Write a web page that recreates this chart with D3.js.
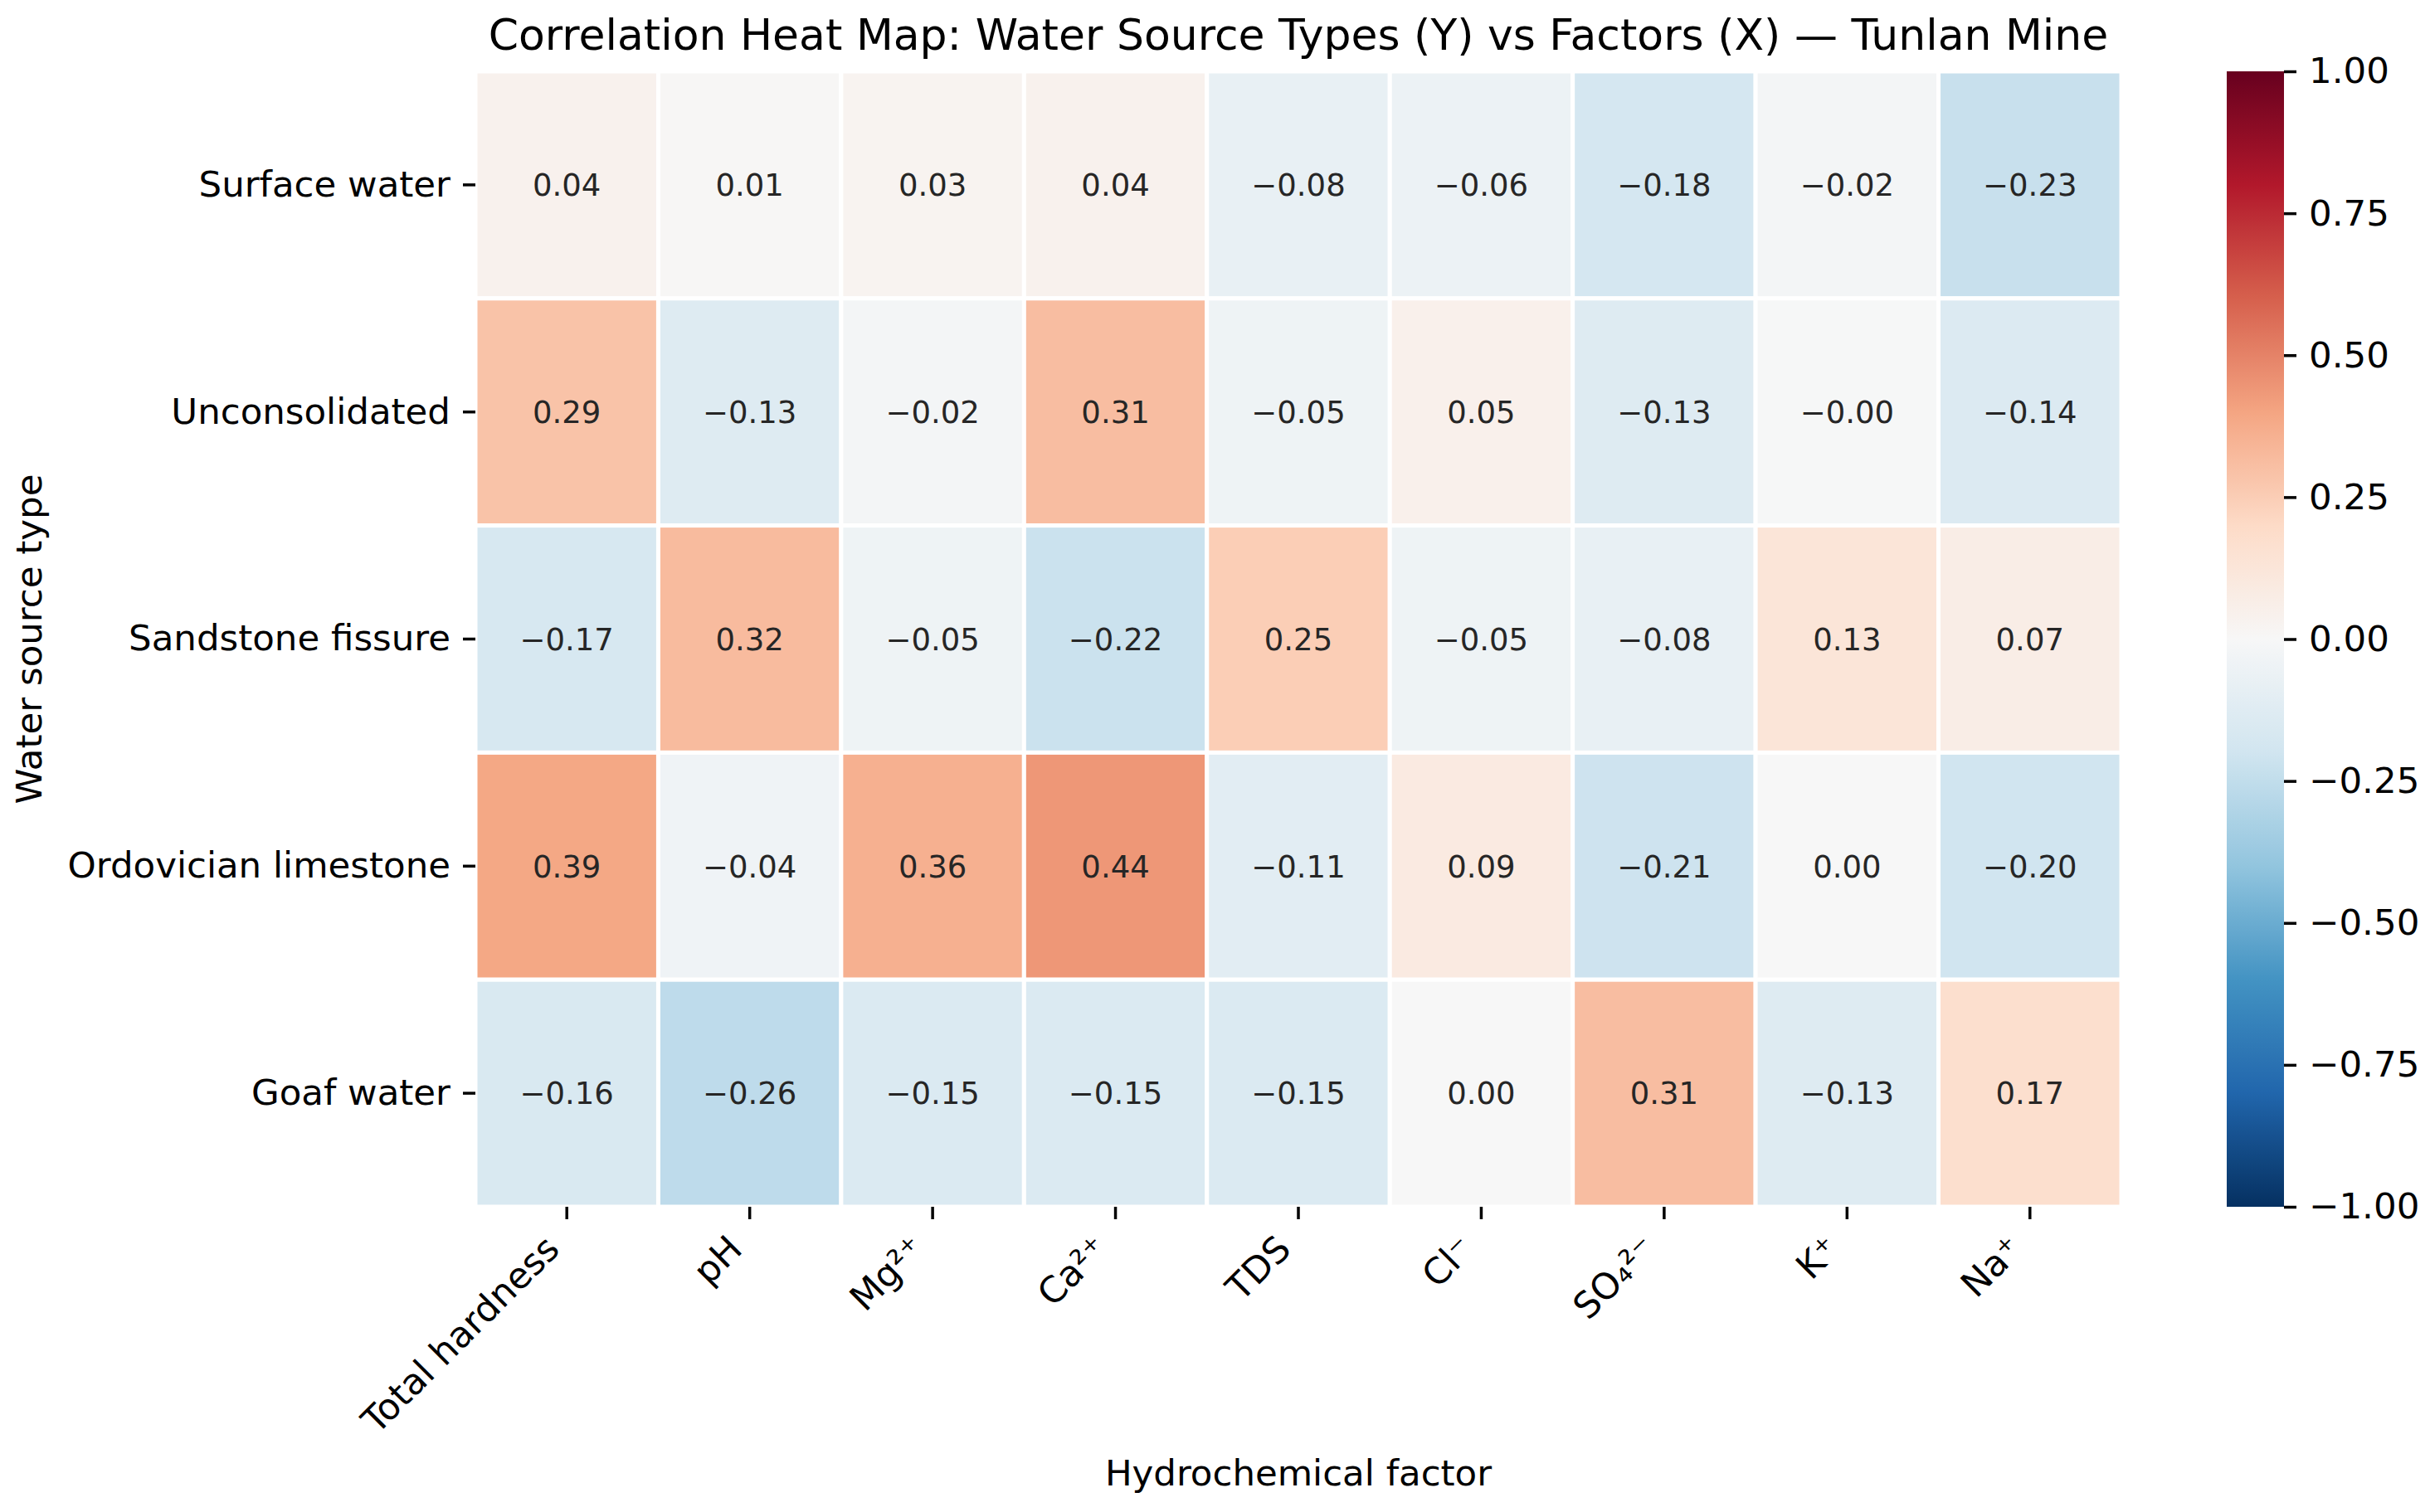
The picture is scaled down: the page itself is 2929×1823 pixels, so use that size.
<!DOCTYPE html>
<html>
<head>
<meta charset="utf-8">
<script src="https://cdn.jsdelivr.net/npm/d3@7"></script>
<style>
  body { margin: 0; background: #fff; }
  text { font-family: "DejaVu Sans", sans-serif; }
</style>
</head>
<body>
<div id="chart"></div>
<script>
const sources = ["Surface water", "Unconsolidated", "Sandstone fissure", "Ordovician limestone", "Goaf water"];
const factors = ["Total hardness", "pH", "Mg²⁺", "Ca²⁺", "TDS", "Cl⁻", "SO₄²⁻", "K⁺", "Na⁺"];

// one array per water source, in factor order
const surfaceWater   = [0.04, 0.01, 0.03, 0.04, -0.08, -0.06, -0.18, -0.02, -0.23];
const unconsolidated = [0.29, -0.13, -0.02, 0.31, -0.05, 0.05, -0.13, -0.004, -0.14];
const sandstone      = [-0.17, 0.32, -0.05, -0.22, 0.25, -0.05, -0.08, 0.13, 0.07];
const ordovician     = [0.39, -0.04, 0.36, 0.44, -0.11, 0.09, -0.21, 0.00, -0.20];
const goafWater      = [-0.16, -0.26, -0.15, -0.15, -0.15, 0.00, 0.31, -0.13, 0.17];

const cbarTicks = [-1, -0.75, -0.5, -0.25, 0, 0.25, 0.5, 0.75, 1];

const rows = [surfaceWater, unconsolidated, sandstone, ordovician, goafWater];

const width = 2929;
const height = 1823;

const margin = {
    "top": 86,
    "left": 573,
    "bottom": 368,
    "right": 372
}

const cells = [];
rows.forEach((r, i) => r.forEach((v, j) => cells.push({source: sources[i], factor: factors[j], value: v})));

const xScale = d3.scaleBand().domain(factors).range([margin.left, width - margin.right]);
const yScale = d3.scaleBand().domain(sources).range([margin.top, height - margin.bottom]);

// matplotlib RdBu_r: linear through the 11 brewer colours
const rdbu = d3.schemeRdBu[11].slice().reverse();
const color = d3.scaleLinear()
    .domain(d3.range(11).map(i => -1 + i * 0.2))
    .range(rdbu)
    .clamp(true);

const fmt = v => (v < 0 ? "\u2212" : "") + Math.abs(v).toFixed(2);

const svg = d3.select("#chart").append("svg").attr("width", width).attr("height", height);

svg.append("g")
    .selectAll("rect")
    .data(cells)
    .join("rect")
    .attr("x", d => xScale(d.factor))
    .attr("y", d => yScale(d.source))
    .attr("width", xScale.bandwidth())
    .attr("height", yScale.bandwidth())
    .attr("fill", d => color(d.value))
    .attr("stroke", "#fff")
    .attr("stroke-width", 5);

svg.append("g")
    .selectAll("text")
    .data(cells)
    .join("text")
    .attr("x", d => xScale(d.factor) + xScale.bandwidth() / 2)
    .attr("y", d => yScale(d.source) + yScale.bandwidth() / 2)
    .attr("dy", "0.36em")
    .attr("text-anchor", "middle")
    .attr("font-size", 37)
    .attr("fill", "#262626")
    .text(d => fmt(d.value));

// axes
const tickLen = 15;
const yAxis = d3.axisLeft(yScale).tickSize(tickLen).tickPadding(15);
const gy = svg.append("g").attr("transform", `translate(${margin.left},0)`).call(yAxis);
gy.select(".domain").remove();
gy.selectAll(".tick line").attr("stroke", "#000").attr("stroke-width", 3.5);
gy.selectAll(".tick text").attr("font-size", 43.5).attr("fill", "#000").attr("font-family", "DejaVu Sans");

const xAxis = d3.axisBottom(xScale).tickSize(tickLen).tickFormat("");
const gx = svg.append("g").attr("transform", `translate(0,${height - margin.bottom})`).call(xAxis);
gx.select(".domain").remove();
gx.selectAll(".tick line").attr("stroke", "#000").attr("stroke-width", 3.5);

// rotated x labels, right edge of the rotated box at the tick
const fs = 43.5;
const s45 = Math.SQRT1_2;
svg.append("g")
    .selectAll("text")
    .data(factors)
    .join("text")
    .attr("text-anchor", "end")
    .attr("font-size", fs)
    .attr("fill", "#000")
    .attr("transform", d => {
        const ax = xScale(d) + xScale.bandwidth() / 2 - 0.22 * fs * s45;
        const ay = height - margin.bottom + tickLen + 15 + 0.76 * fs * s45;
        return `translate(${ax},${ay}) rotate(-45)`;
    })
    .text(d => d);

// colorbar
const cbX = 2684, cbW = 69;
const cbScale = d3.scaleLinear().domain([-1, 1]).range([height - margin.bottom, margin.top]);
const defs = svg.append("defs");
const grad = defs.append("linearGradient").attr("id", "cbgrad")
    .attr("x1", 0).attr("y1", 1).attr("x2", 0).attr("y2", 0);
grad.selectAll("stop")
    .data(d3.range(0, 1.0001, 0.02))
    .join("stop")
    .attr("offset", d => d)
    .attr("stop-color", d => color(-1 + 2 * d));

svg.append("rect")
    .attr("x", cbX)
    .attr("y", margin.top)
    .attr("width", cbW)
    .attr("height", height - margin.bottom - margin.top)
    .attr("fill", "url(#cbgrad)");

const cbAxis = d3.axisRight(cbScale).tickValues(cbarTicks).tickSize(tickLen).tickPadding(15)
    .tickFormat(d3.format(".2f"));
const gc = svg.append("g").attr("transform", `translate(${cbX + cbW},0)`).call(cbAxis);
gc.select(".domain").remove();
gc.selectAll(".tick line").attr("stroke", "#000").attr("stroke-width", 3.5);
gc.selectAll(".tick text").attr("font-size", 43.5).attr("fill", "#000").attr("font-family", "DejaVu Sans");

// title and axis labels
svg.append("text")
    .attr("x", (margin.left + width - margin.right) / 2)
    .attr("y", 60)
    .attr("text-anchor", "middle")
    .attr("font-size", 52)
    .attr("fill", "#000")
    .text("Correlation Heat Map: Water Source Types (Y) vs Factors (X) \u2014 Tunlan Mine");

svg.append("text")
    .attr("x", (margin.left + width - margin.right) / 2)
    .attr("y", 1791)
    .attr("text-anchor", "middle")
    .attr("font-size", 43.5)
    .attr("fill", "#000")
    .text("Hydrochemical factor");

svg.append("text")
    .attr("transform", `translate(50,${(margin.top + height - margin.bottom) / 2}) rotate(-90)`)
    .attr("text-anchor", "middle")
    .attr("font-size", 43.5)
    .attr("fill", "#000")
    .text("Water source type");
</script>
</body>
</html>
